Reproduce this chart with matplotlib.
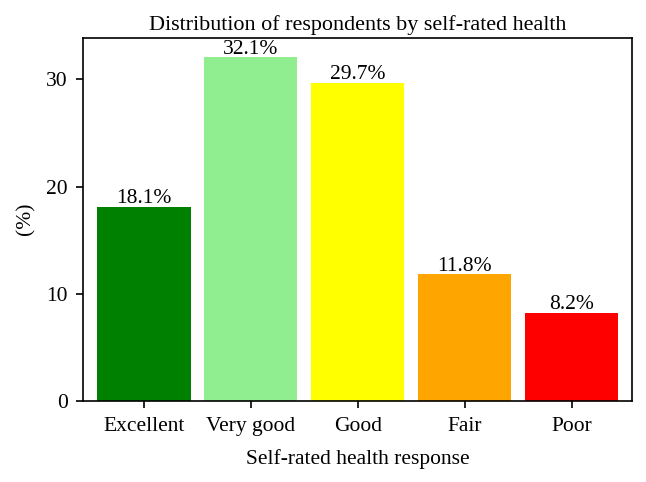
import matplotlib
matplotlib.use("Agg")
import matplotlib.pyplot as plt

categories = ["Excellent", "Very good", "Good", "Fair", "Poor"]
percent = [18.1, 32.1, 29.7, 11.8, 8.2]
colors = ["green", "lightgreen", "yellow", "orange", "red"]

plt.rcParams["font.family"] = ["Liberation Serif", "DejaVu Serif"]
plt.rcParams["font.size"] = 15.5

fig = plt.figure(figsize=(6.46, 4.82), dpi=100)
ax = fig.add_axes([0.1285, 0.1687, 0.8495, 0.7531])

x = range(len(categories))
bars = ax.bar(x, percent, width=0.87, color=colors)

# pourcentages au-dessus des barres
for b, v in zip(bars, percent):
    ax.text(b.get_x() + b.get_width() / 2, v - 0.15, f"{v}%", ha="center", va="bottom")

ax.set_xticks(list(x))
ax.set_xticklabels(categories)
ax.set_yticks([0, 10, 20, 30])
ax.set_xlim(-0.57, 4.56)
ax.set_ylim(0, 33.9)
ax.tick_params(length=5, width=1.2)
ax.tick_params(axis="x", pad=7)
ax.tick_params(axis="y", pad=6)
for s in ax.spines.values():
    s.set_linewidth(1.2)

ax.set_title("Distribution of respondents by self-rated health", fontsize=15.9, pad=5.5)
ax.set_xlabel("Self-rated health response", labelpad=9)
ax.set_ylabel("(%)", labelpad=8)

fig.savefig("out.png", dpi=100)
